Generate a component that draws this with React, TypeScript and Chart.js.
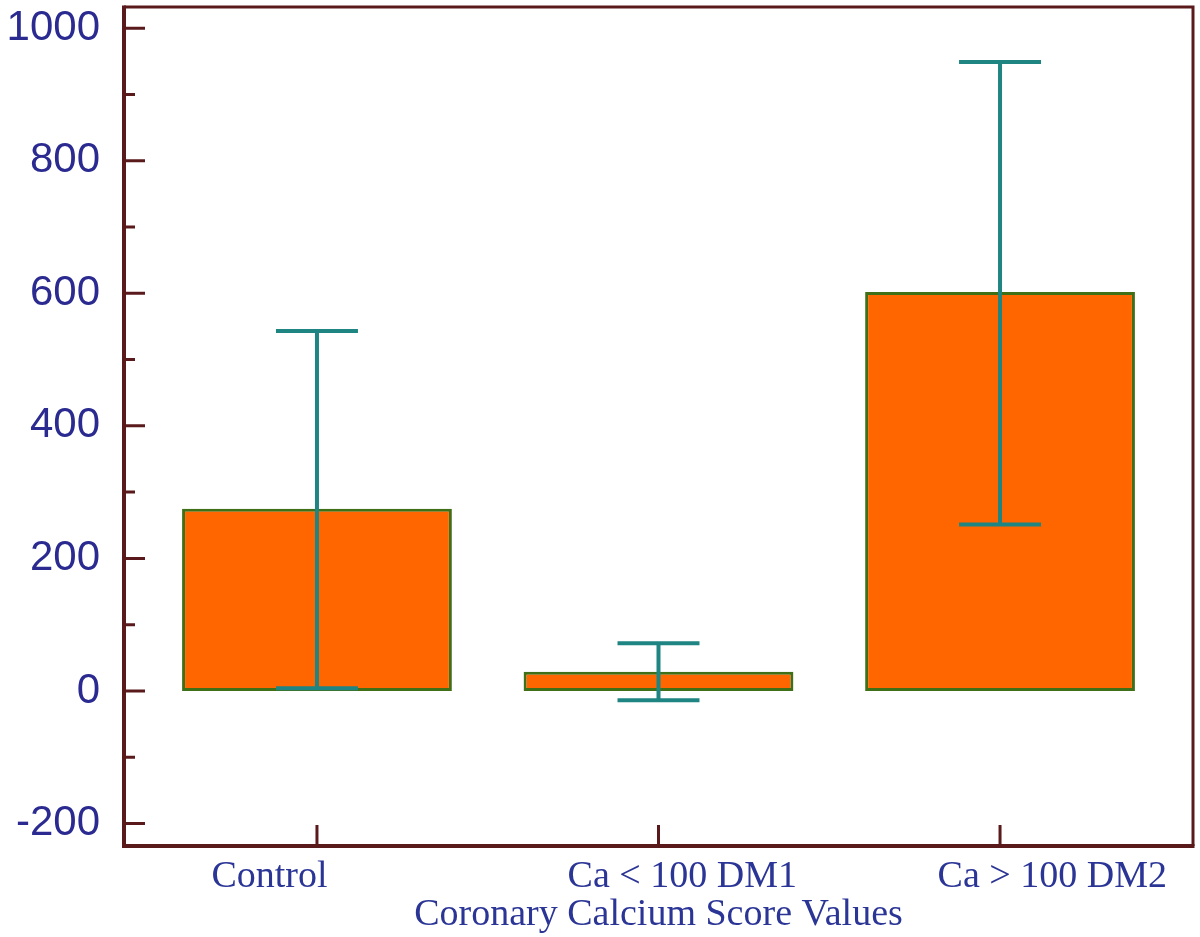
import React, { useEffect, useRef } from 'react';
import { Chart, registerables } from 'chart.js';

Chart.register(...registerables);

const categories = ['Control', 'Ca < 100 DM1', 'Ca > 100 DM2'];
const categoryPositions = [1, 2, 3];
const meanValues = [275, 29, 602];
const errorLow = [4, -14, 251];
const errorHigh = [543, 72, 949];
const yTickValues = [-200, 0, 200, 400, 600, 800, 1000];
const yMinorTickValues = [-100, 100, 300, 500, 700, 900];
const xAxisTitle = 'Coronary Calcium Score Values';

const AXIS_COLOR = '#5a1a1c';
const ERR_COLOR = '#1f8583';
const BAR_FILL = '#ff6600';
const BAR_BORDER = '#3f7018';
const Y_LABEL_COLOR = '#2a2a90';
const X_LABEL_COLOR = '#2b3596';
// padding (in spaces) to reproduce the uneven label placement of the original
const labelLeadSpaces = [0, 5, 11];
const labelTrailSpaces = [10, 0, 0];

const decorPlugin = {
  id: 'decor',
  afterDatasetsDraw(chart: any) {
    const { ctx, chartArea, scales } = chart;
    const xs = scales.x;
    const ys = scales.y;
    ctx.save();
    // error bars
    ctx.strokeStyle = ERR_COLOR;
    ctx.lineWidth = 4;
    ctx.lineCap = 'butt';
    const capHalf = (xs.getPixelForValue(2) - xs.getPixelForValue(1)) * 0.12;
    categoryPositions.forEach((p, i) => {
      const x = xs.getPixelForValue(p);
      const yl = ys.getPixelForValue(errorLow[i]);
      const yh = ys.getPixelForValue(errorHigh[i]);
      ctx.beginPath();
      ctx.moveTo(x, yl);
      ctx.lineTo(x, yh);
      ctx.moveTo(x - capHalf, yh);
      ctx.lineTo(x + capHalf, yh);
      ctx.moveTo(x - capHalf, yl);
      ctx.lineTo(x + capHalf, yl);
      ctx.stroke();
    });
    // frame
    ctx.strokeStyle = AXIS_COLOR;
    ctx.lineWidth = 3;
    ctx.beginPath();
    ctx.moveTo(chartArea.left, chartArea.top);
    ctx.lineTo(chartArea.right, chartArea.top);
    ctx.lineTo(chartArea.right, chartArea.bottom);
    ctx.stroke();
    ctx.lineWidth = 4;
    ctx.beginPath();
    ctx.moveTo(chartArea.left, chartArea.top - 1.5);
    ctx.lineTo(chartArea.left, chartArea.bottom);
    ctx.lineTo(chartArea.right + 1.5, chartArea.bottom);
    ctx.stroke();
    // inward ticks
    ctx.lineWidth = 3;
    ctx.beginPath();
    yTickValues.forEach((v) => {
      const y = ys.getPixelForValue(v);
      ctx.moveTo(chartArea.left, y);
      ctx.lineTo(chartArea.left + 21, y);
    });
    yMinorTickValues.forEach((v) => {
      const y = ys.getPixelForValue(v);
      ctx.moveTo(chartArea.left, y);
      ctx.lineTo(chartArea.left + 11, y);
    });
    categoryPositions.forEach((p) => {
      const x = xs.getPixelForValue(p);
      ctx.moveTo(x, chartArea.bottom);
      ctx.lineTo(x, chartArea.bottom - 21);
    });
    ctx.stroke();
    ctx.restore();
  },
};

export default function App() {
  const ref = useRef<HTMLCanvasElement | null>(null);
  useEffect(() => {
    if (!ref.current) return;
    const chart = new Chart(ref.current, {
      type: 'bar',
      data: {
        datasets: [
          {
            data: categoryPositions.map((x, i) => ({ x, y: meanValues[i] })),
            backgroundColor: BAR_FILL,
            borderColor: BAR_BORDER,
            borderWidth: 3,
            borderSkipped: false,
            barPercentage: 0.79,
            categoryPercentage: 1,
          },
        ],
      },
      options: {
        animation: false,
        responsive: true,
        maintainAspectRatio: false,
        layout: { padding: { top: 7, right: 7, left: 0, bottom: 0 } },
        plugins: { legend: { display: false }, tooltip: { enabled: false } },
        scales: {
          x: {
            type: 'linear',
            offset: false,
            min: 0.435,
            max: 3.565,
            grid: { display: false, offset: false, drawTicks: false },
            border: { display: false },
            afterFit: (s: any) => {
              s.height = 91;
              s.paddingLeft = 0;
              s.paddingRight = 0;
            },
            afterBuildTicks: (s: any) => {
              s.ticks = categoryPositions.map((v) => ({ value: v }));
            },
            ticks: {
              autoSkip: false,
              maxRotation: 0,
              padding: 8,
              color: X_LABEL_COLOR,
              font: { family: '"Liberation Serif", "Times New Roman", serif', size: 38 },
              callback: (_v: any, i: number) =>
                ' '.repeat(labelLeadSpaces[i]) + categories[i] + ' '.repeat(labelTrailSpaces[i]),
            },
            title: {
              display: true,
              text: xAxisTitle,
              color: X_LABEL_COLOR,
              font: { family: '"Liberation Serif", "Times New Roman", serif', size: 38, lineHeight: 1 },
              padding: { top: 0, bottom: 3 },
            },
          },
          y: {
            min: -234,
            max: 1032,
            grid: { display: false, drawTicks: false },
            border: { display: false },
            afterFit: (s: any) => {
              s.width = 124;
              s.paddingTop = 0;
              s.paddingBottom = 0;
            },
            afterBuildTicks: (s: any) => {
              s.ticks = yTickValues.map((v) => ({ value: v }));
            },
            ticks: {
              padding: 24,
              color: Y_LABEL_COLOR,
              font: { family: '"Liberation Sans", Arial, sans-serif', size: 42 },
              callback: (v: any) => String(v),
            },
          },
        },
      },
      plugins: [decorPlugin],
    } as any);
    return () => chart.destroy();
  }, []);
  return (
    <div style={{ position: 'fixed', left: 0, top: 0, width: 1200, height: 937, background: '#fff' }}>
      <canvas ref={ref} />
    </div>
  );
}
